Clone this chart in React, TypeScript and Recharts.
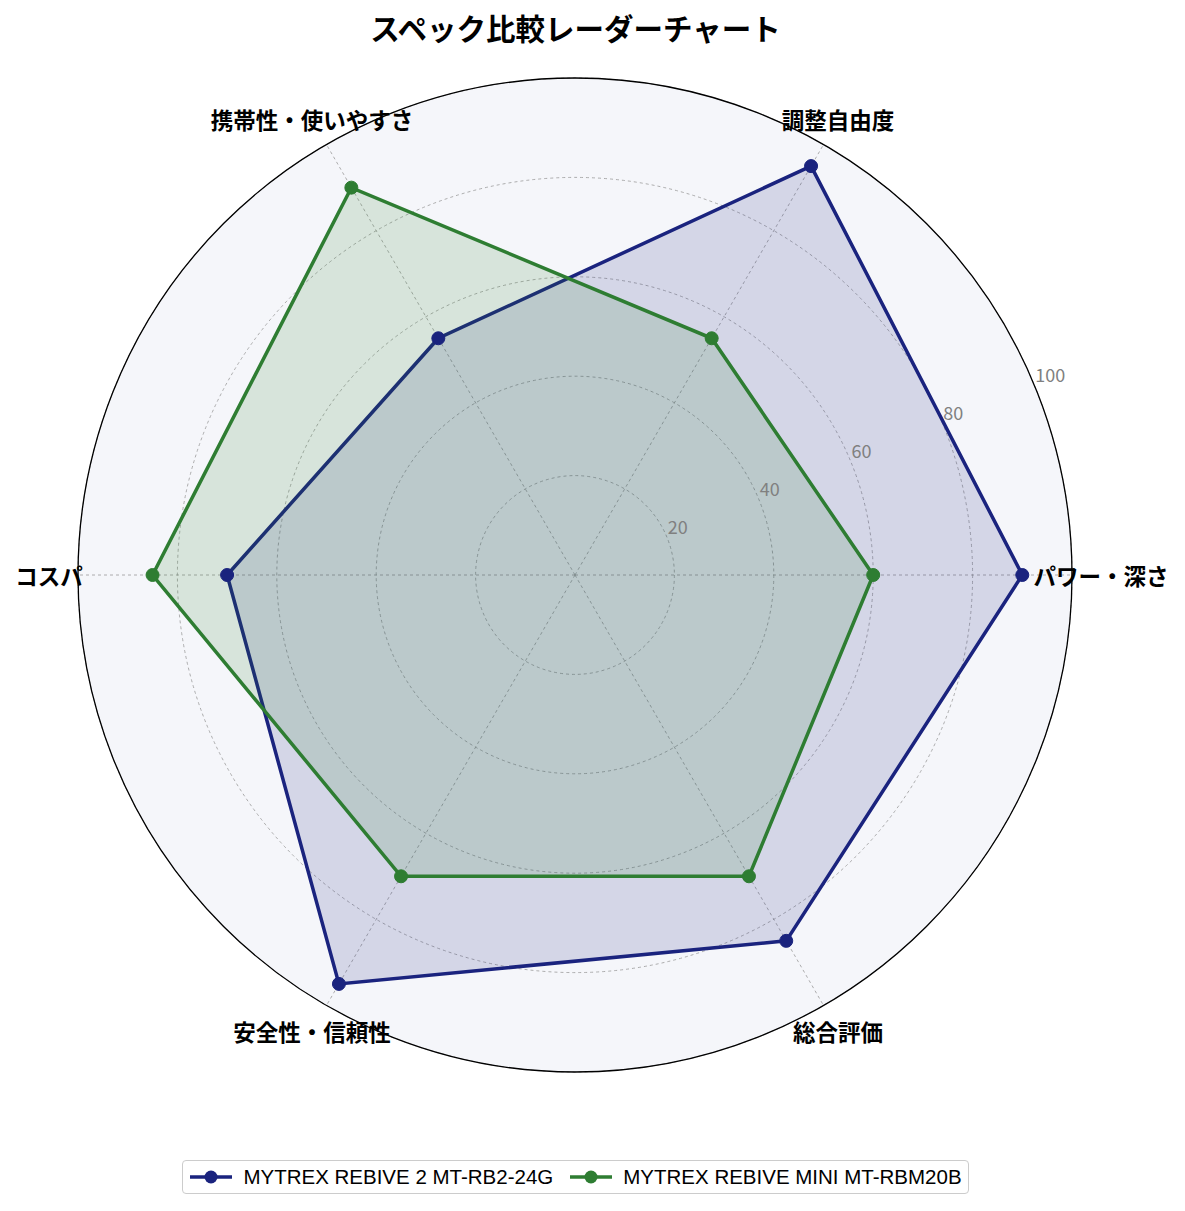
import { RadarChart, Radar, PolarGrid, PolarAngleAxis, PolarRadiusAxis, Legend } from 'recharts';

// 軸カテゴリ（0°=右から時計回りの並び）
const categories = ['パワー・深さ', '総合評価', '安全性・信頼性', 'コスパ', '携帯性・使いやすさ', '調整自由度'];

// 各モデルのスコア（categories と同じ並び）
const rebive2Scores = [90, 85, 95, 70, 55, 95];
const rebiveMiniScores = [60, 70, 70, 85, 90, 55];

const seriesNames = ['MYTREX REBIVE 2 MT-RB2-24G', 'MYTREX REBIVE MINI MT-RBM20B'];
const seriesColors = ['#1a237e', '#2e7d32'];

const radiusTicks = [20, 40, 60, 80, 100];

const chartData = categories.map((c, i) => ({
  subject: c,
  rebive2: rebive2Scores[i],
  rebiveMini: rebiveMiniScores[i],
}));

const JP_FONT = "'Noto Sans CJK JP', 'Noto Sans', sans-serif";

const AngleTick = (props: any) => {
  const { x, y, payload } = props;
  const a = (payload.coordinate * Math.PI) / 180;
  // ラベルを少し外側へ
  const extra = 21;
  return (
    <text
      x={x + extra * Math.cos(a)}
      y={y - extra * Math.sin(a)}
      textAnchor="middle"
      dominantBaseline="central"
      fontFamily={JP_FONT}
      fontWeight={700}
      fontSize={22.5}
      fill="#000"
    >
      {payload.value}
    </text>
  );
};

const RadiusTick = (props: any) => {
  const { x, y, payload } = props;
  if (payload.value === 0) return null;
  return (
    <text x={x + 1} y={y - 3} textAnchor="start" fontFamily={JP_FONT} fontSize={18} fill="#808080">
      {payload.value}
    </text>
  );
};

const LegendContent = ({ payload }: any) => (
  <div
    style={{
      display: 'inline-flex',
      alignItems: 'center',
      border: '1px solid #cccccc',
      borderRadius: 4,
      background: '#fff',
      padding: '4px 6px',
      height: 24,
      fontFamily: "'Liberation Sans', Arial, sans-serif",
      fontSize: 20.5,
      color: '#000',
    }}
  >
    {(payload || []).map((entry: any, i: number) => {
      const color = seriesColors[i] ?? entry.color;
      return (
        <span key={i} style={{ display: 'inline-flex', alignItems: 'center', marginRight: i === 0 ? 16 : 0 }}>
          <svg width={44} height={16} style={{ marginRight: 10 }}>
            <line x1={1} x2={43} y1={8} y2={8} stroke={color} strokeWidth={3.5} />
            <circle cx={22} cy={8} r={6.5} fill={color} />
          </svg>
          <span>{entry.value}</span>
        </span>
      );
    })}
  </div>
);

export default function App() {
  return (
    <div style={{ position: 'absolute', left: 0, top: 0, width: 1185, height: 1211, background: '#fff' }}>
      <div
        style={{
          position: 'absolute',
          left: 0,
          width: 1151,
          top: 7,
          textAlign: 'center',
          fontFamily: JP_FONT,
          fontWeight: 700,
          fontSize: 29.5,
          lineHeight: '40px',
        }}
      >
        スペック比較レーダーチャート
      </div>
      <div
        style={{
          position: 'absolute',
          left: 78,
          top: 78,
          width: 994,
          height: 994,
          borderRadius: '50%',
          background: '#f5f6fa',
        }}
      />
      <div style={{ position: 'absolute', left: 0, top: 0 }}>
        <RadarChart
          width={1185}
          height={1211}
          data={chartData}
          cx={575}
          cy={575}
          outerRadius={497}
          startAngle={0}
          endAngle={-360}
          margin={{ top: 0, right: 0, bottom: 0, left: 0 }}
        >
          <PolarGrid gridType="circle" stroke="#999" strokeWidth={0.8} strokeDasharray="3 3" />
          <PolarAngleAxis
            dataKey="subject"
            axisLineType="circle"
            axisLine={{ stroke: '#000', strokeWidth: 1.3 }}
            tickLine={false}
            tickSize={8}
            tick={<AngleTick />}
          />
          <Radar
            name={seriesNames[0]}
            dataKey="rebive2"
            stroke={seriesColors[0]}
            strokeWidth={3.5}
            fill={seriesColors[0]}
            fillOpacity={0.15}
            dot={{ r: 6.5, fill: seriesColors[0], fillOpacity: 1, stroke: seriesColors[0], strokeWidth: 1 }}
            isAnimationActive={false}
          />
          <Radar
            name={seriesNames[1]}
            dataKey="rebiveMini"
            stroke={seriesColors[1]}
            strokeWidth={3.5}
            fill={seriesColors[1]}
            fillOpacity={0.15}
            dot={{ r: 6.5, fill: seriesColors[1], fillOpacity: 1, stroke: seriesColors[1], strokeWidth: 1 }}
            isAnimationActive={false}
          />
          <PolarRadiusAxis
            angle={22.5}
            domain={[0, 100]}
            ticks={radiusTicks as any}
            tickCount={6}
            axisLine={false}
            tickLine={false}
            tick={<RadiusTick />}
          />
          <Legend
            content={<LegendContent />}
            wrapperStyle={{ left: 0, width: 1151, top: 1160, bottom: 'auto', textAlign: 'center' }}
          />
        </RadarChart>
      </div>
    </div>
  );
}
